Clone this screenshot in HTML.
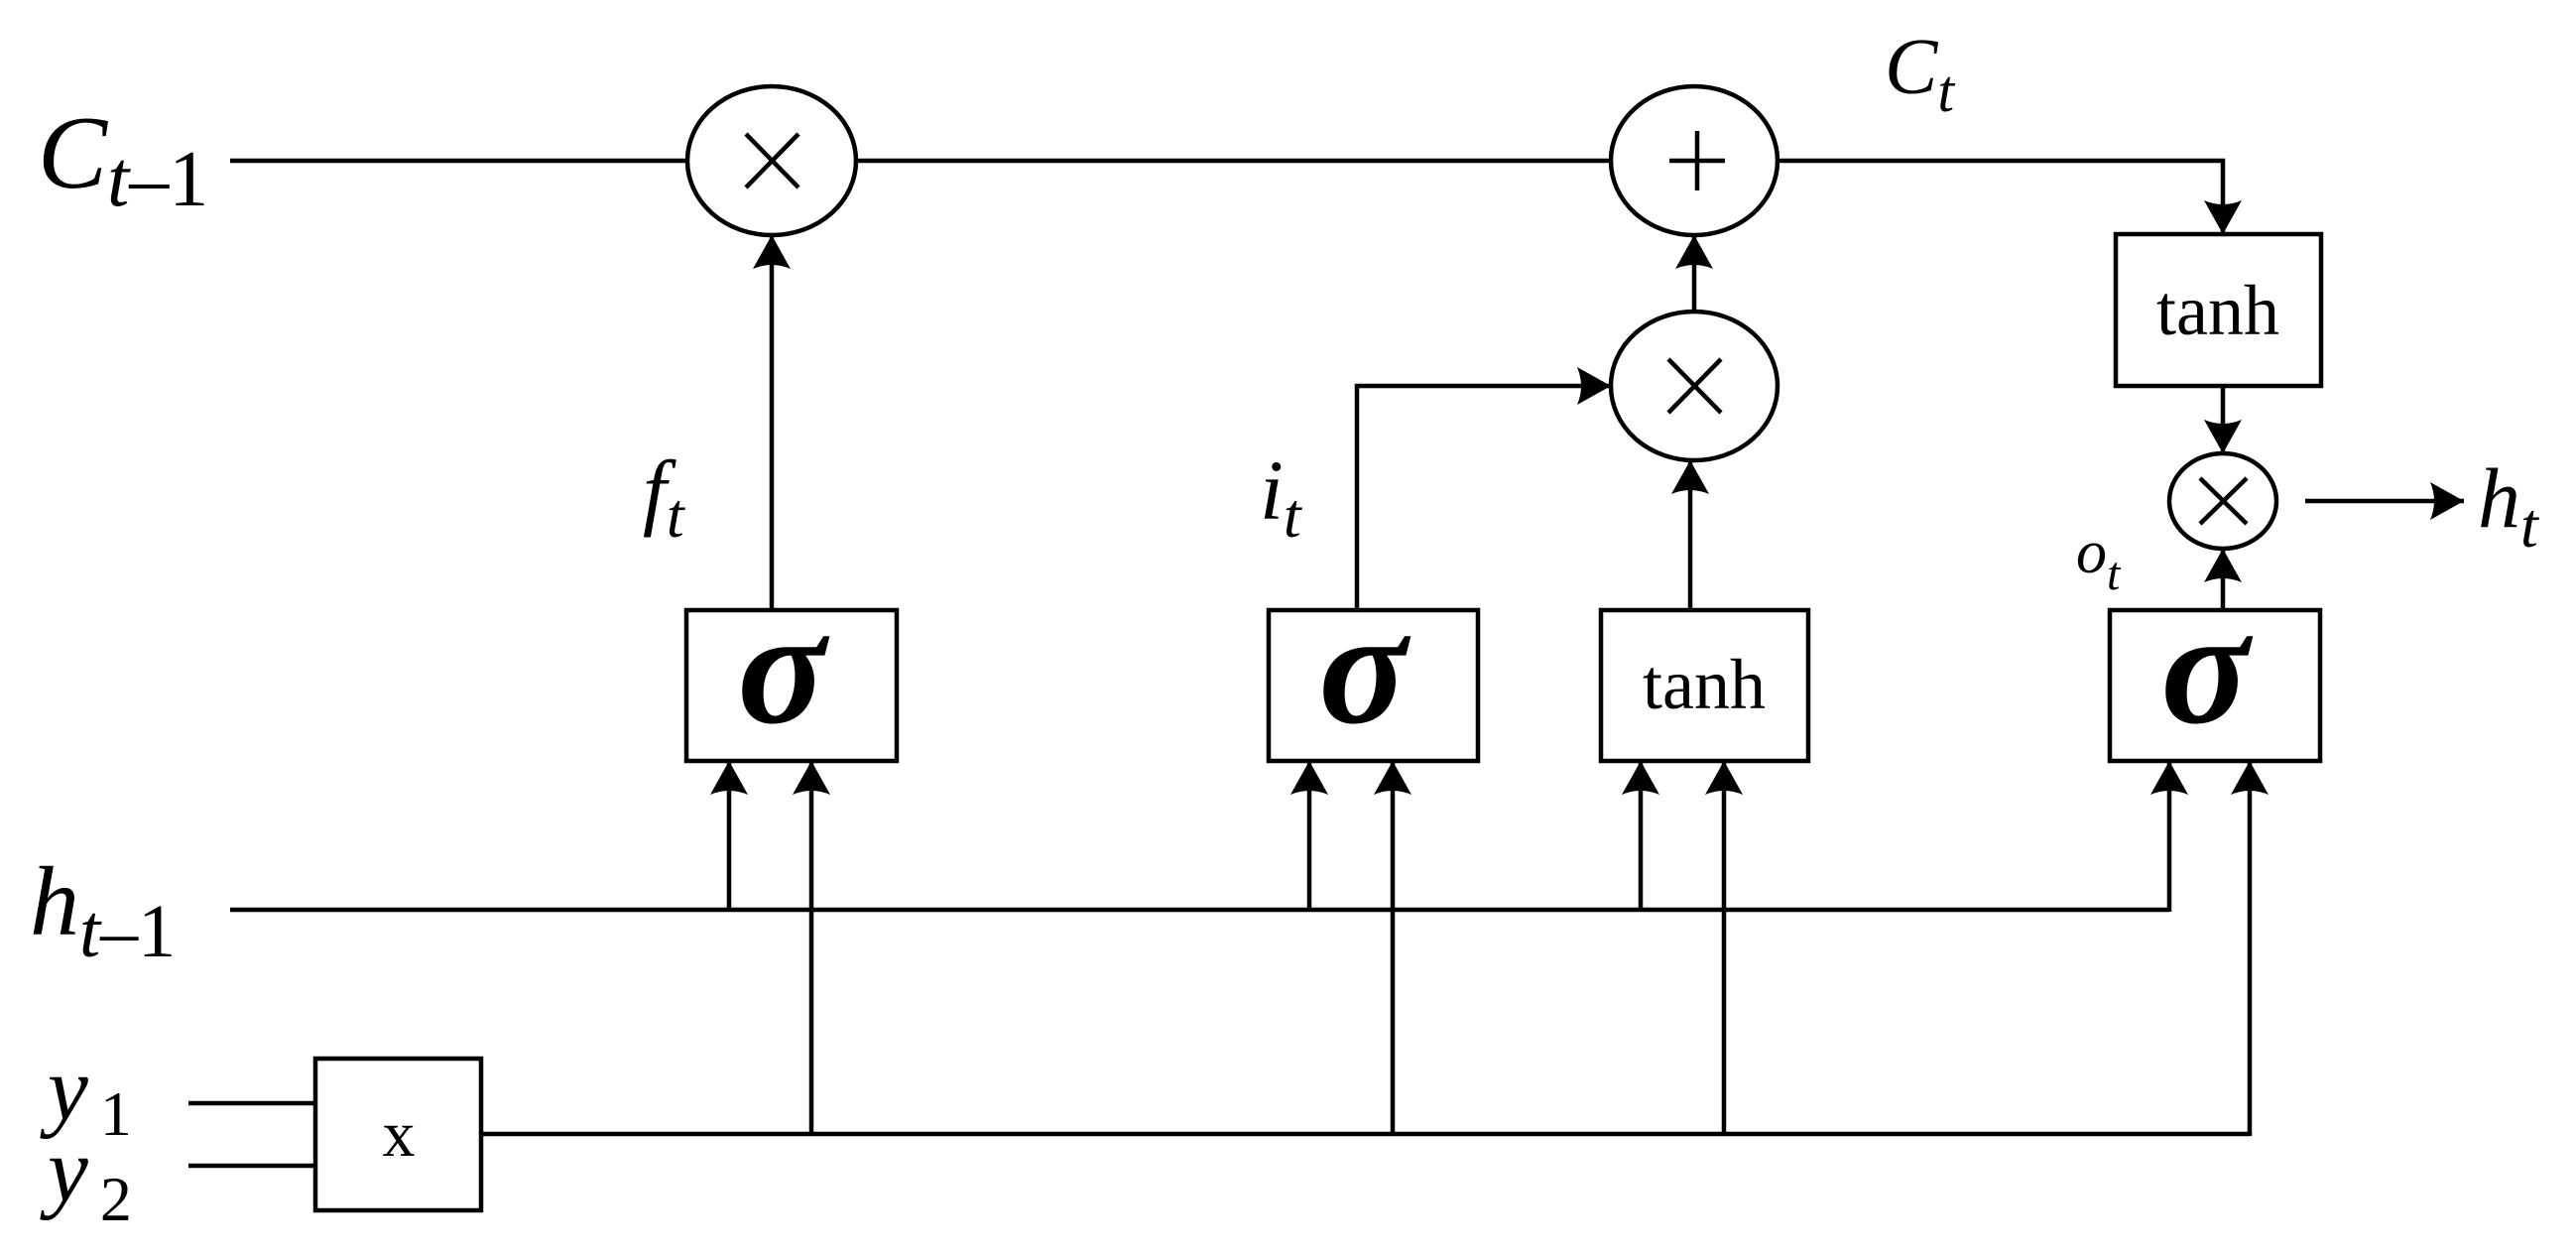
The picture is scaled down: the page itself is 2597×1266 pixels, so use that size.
<!DOCTYPE html>
<html><head><meta charset="utf-8"><style>
html,body{margin:0;padding:0;background:#fff;}
svg{display:block;}
text{font-family:"Liberation Serif",serif;fill:#000;}
</style></head><body>
<svg width="2597" height="1266" viewBox="0 0 2597 1266" xmlns="http://www.w3.org/2000/svg">
<defs>
<marker id="a" markerUnits="userSpaceOnUse" markerWidth="40" markerHeight="40" refX="34" refY="19" orient="auto">
<path d="M0,0 L34,19 L0,38 Q8,19 0,0 Z" fill="#000"/>
</marker>
</defs>
<g stroke="#000" fill="none" stroke-width="4.5">
<line x1="232" y1="162" x2="693" y2="162"/>
<line x1="863" y1="162" x2="1624" y2="162"/>
<polyline points="1792,162 2241,162 2241,236" marker-end="url(#a)"/>
<ellipse cx="778" cy="162" rx="85" ry="75"/>
<ellipse cx="1708" cy="162" rx="84" ry="75"/>
<ellipse cx="1708" cy="389" rx="84" ry="75"/>
<ellipse cx="2241" cy="505" rx="54" ry="48"/>
<rect x="692" y="615" width="212" height="152"/>
<rect x="1279" y="615" width="211" height="152"/>
<rect x="1614" y="615" width="209" height="152"/>
<rect x="2127" y="615" width="212" height="152"/>
<rect x="2133" y="236" width="207" height="153"/>
<rect x="318" y="1067" width="167" height="153"/>
<line x1="778" y1="615" x2="778" y2="237" marker-end="url(#a)"/>
<line x1="1708" y1="314" x2="1708" y2="237" marker-end="url(#a)"/>
<polyline points="1368,615 1368,389 1624,389" marker-end="url(#a)"/>
<line x1="1704" y1="615" x2="1704" y2="464" marker-end="url(#a)"/>
<line x1="2241" y1="389" x2="2241" y2="457" marker-end="url(#a)"/>
<line x1="2241" y1="615" x2="2241" y2="553" marker-end="url(#a)"/>
<line x1="2324" y1="505" x2="2484" y2="505" marker-end="url(#a)"/>
<line x1="232" y1="917" x2="2187" y2="917"/>
<line x1="735" y1="917" x2="735" y2="767" marker-end="url(#a)"/>
<line x1="1320" y1="917" x2="1320" y2="767" marker-end="url(#a)"/>
<line x1="1654" y1="917" x2="1654" y2="767" marker-end="url(#a)"/>
<line x1="2187" y1="919" x2="2187" y2="767" marker-end="url(#a)"/>
<line x1="485" y1="1143" x2="2268" y2="1143"/>
<line x1="818" y1="1143" x2="818" y2="767" marker-end="url(#a)"/>
<line x1="1404" y1="1143" x2="1404" y2="767" marker-end="url(#a)"/>
<line x1="1738" y1="1143" x2="1738" y2="767" marker-end="url(#a)"/>
<line x1="2268" y1="1145" x2="2268" y2="767" marker-end="url(#a)"/>
<line x1="190" y1="1112" x2="318" y2="1112"/>
<line x1="190" y1="1175" x2="318" y2="1175"/>
<path d="M752,135 L805,189 M805,135 L752,189"/>
<path d="M1682,362 L1735,416 M1735,362 L1682,416"/>
<path d="M2218,482 L2265,528 M2265,482 L2218,528"/>
<path d="M1711,132 L1711,192 M1683,162 L1739,162"/>
</g>
<g font-size="165" font-style="italic" font-weight="bold" text-anchor="middle">
<text x="788" y="728">σ</text>
<text x="1374" y="728">σ</text>
<text x="2223" y="728">σ</text>
</g>
<g font-size="72" text-anchor="middle">
<text x="1718" y="714">tanh</text>
<text x="2236" y="337">tanh</text>
<text x="402" y="1165" font-size="66">x</text>
</g>
<g font-style="italic">
<text x="38" y="189" font-size="105">C<tspan font-size="80" dy="18">t</tspan><tspan font-style="normal" font-size="80">–1</tspan></text>
<text x="1900" y="94" font-size="80">C<tspan font-size="60" dy="18">t</tspan></text>
<text x="2498" y="531" font-size="86">h<tspan font-size="64" dy="20">t</tspan></text>
<text x="2093" y="577" font-size="62">o<tspan font-size="48" dy="17">t</tspan></text>
<text x="648" y="523" font-size="86">f<tspan font-size="64" dy="18">t</tspan></text>
<text x="1270" y="523" font-size="86">i<tspan font-size="64" dy="18">t</tspan></text>
<text x="30" y="942" font-size="100">h<tspan font-size="76" dy="22">t</tspan><tspan font-style="normal" font-size="76">–1</tspan></text>
<text x="48" y="1128" font-size="92">y<tspan font-style="normal" font-size="64" dx="12" dy="16">1</tspan></text>
<text x="48" y="1210" font-size="92">y<tspan font-style="normal" font-size="64" dx="12" dy="20">2</tspan></text>
</g>
</svg>
</body></html>
